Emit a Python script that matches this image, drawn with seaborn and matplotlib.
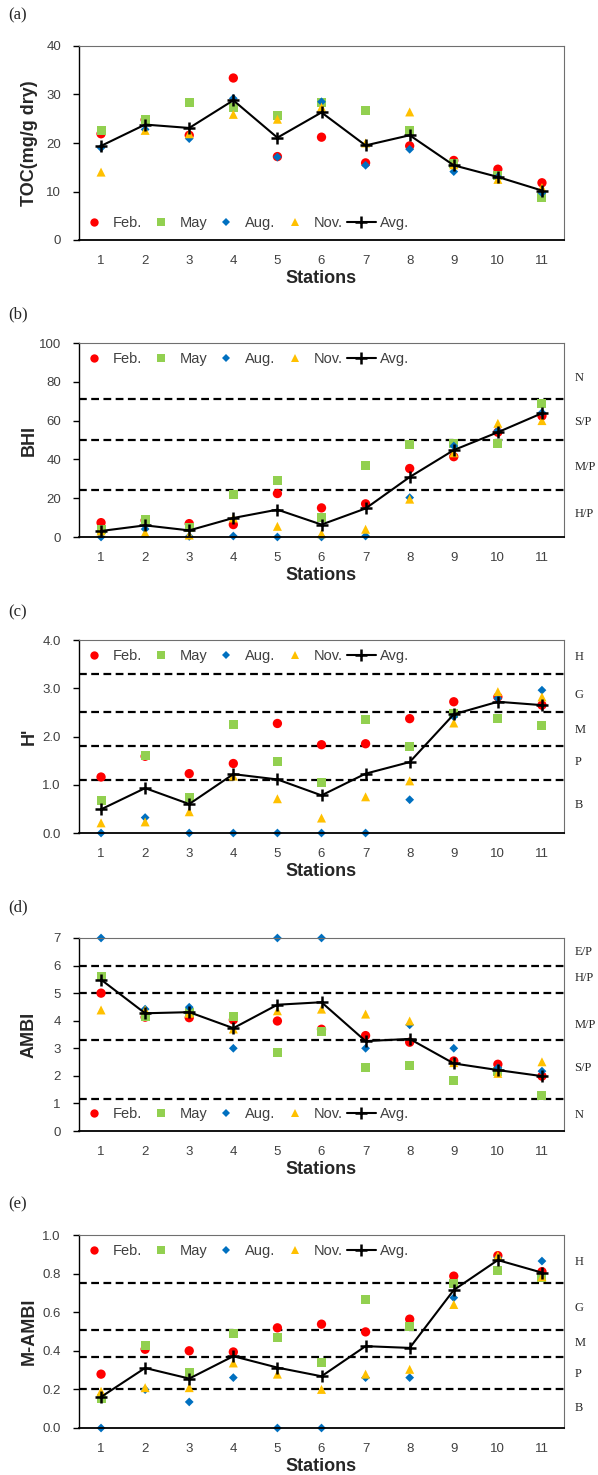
import matplotlib
matplotlib.use("Agg")
import matplotlib.pyplot as plt
from matplotlib.lines import Line2D
from matplotlib.ticker import FormatStrFormatter
import seaborn as sns
import pandas as pd
import numpy as np

sns.set_style("ticks")
plt.rcParams['font.family'] = ['Liberation Sans', 'DejaVu Sans']

# ---------------- data ----------------
stations = list(range(1, 12))
months = ['Feb.', 'May', 'Aug.', 'Nov.']

# (a) TOC
toc_feb = [21.9, 24.8, 21.6, 33.4, 17.2, 21.2, 15.9, 19.4, 16.4, 14.6, 11.8]
toc_may = [22.5, 24.9, 28.3, 27.3, 25.7, 28.3, 26.8, 22.5, 15.7, 13.3, 8.7]
toc_aug = [19.0, 22.8, 20.9, 29.2, 17.1, 28.5, 15.4, 18.7, 14.1, 13.0, 9.7]
toc_nov = [14.0, 22.6, 21.9, 25.9, 24.9, 27.4, 20.0, 26.4, 15.5, 12.5, 10.8]
toc_avg = [19.4, 23.8, 23.1, 28.8, 21.1, 26.3, 19.5, 21.6, 15.4, 13.0, 10.2]

# (b) BHI
bhi_feb = [7.4, 8.6, 6.9, 6.4, 22.4, 15.0, 17.1, 35.3, 41.4, 54.0, 62.4]
bhi_may = [4.0, 9.0, 4.8, 21.9, 29.1, 9.8, 36.7, 47.9, 48.3, 48.3, 69.0]
bhi_aug = [0.0, 4.1, 0.3, 0.5, 0.0, 0.0, 0.5, 20.3, 46.9, 54.8, 64.1]
bhi_nov = [3.1, 2.2, 1.0, 9.8, 5.5, 1.7, 4.0, 19.5, 43.4, 58.6, 60.0]
bhi_avg = [3.1, 6.0, 3.4, 9.8, 14.1, 6.4, 14.7, 30.9, 44.8, 54.0, 63.8]
bhi_limits = [71, 50, 24]
bhi_zones = ['N', 'S/P', 'M/P', 'H/P']

# (c) H'
h_feb = [1.16, 1.59, 1.23, 1.44, 2.27, 1.83, 1.85, 2.37, 2.72, 2.82, 2.65]
h_may = [0.68, 1.60, 0.73, 2.25, 1.49, 1.04, 2.35, 1.79, 2.48, 2.37, 2.22]
h_aug = [0.0, 0.32, 0.0, 0.0, 0.0, 0.0, 0.0, 0.69, 2.41, 2.79, 2.96]
h_nov = [0.21, 0.23, 0.44, 1.18, 0.71, 0.31, 0.75, 1.08, 2.28, 2.93, 2.82]
h_avg = [0.49, 0.93, 0.60, 1.22, 1.11, 0.78, 1.23, 1.47, 2.46, 2.72, 2.65]
h_limits = [3.3, 2.5, 1.8, 1.1]
h_zones = ['H', 'G', 'M', 'P', 'B']

# (d) AMBI
ambi_feb = [5.0, 4.13, 4.11, 4.03, 3.99, 3.69, 3.46, 3.22, 2.54, 2.42, 1.99]
ambi_may = [5.61, 4.17, 4.30, 4.15, 2.84, 3.60, 2.29, 2.39, 1.84, 2.15, 1.27]
ambi_aug = [7.0, 4.42, 4.49, 3.0, 7.0, 7.0, 3.0, 3.85, 3.0, 2.29, 2.17]
ambi_nov = [4.39, 4.39, 4.27, 3.70, 4.36, 4.42, 4.24, 3.99, 2.48, 2.09, 2.51]
ambi_avg = [5.49, 4.27, 4.31, 3.73, 4.58, 4.67, 3.26, 3.34, 2.45, 2.21, 1.99]
ambi_limits = [6.0, 5.0, 3.3, 1.15]
ambi_zones = ['E/P', 'H/P', 'M/P', 'S/P', 'N']

# (e) M-AMBI
mambi_feb = [0.279, 0.408, 0.40, 0.394, 0.519, 0.538, 0.498, 0.564, 0.787, 0.893, 0.81]
mambi_may = [0.152, 0.429, 0.285, 0.49, 0.467, 0.337, 0.666, 0.528, 0.749, 0.815, 0.78]
mambi_aug = [0.0, 0.199, 0.135, 0.261, 0.0, 0.0, 0.261, 0.261, 0.675, 0.882, 0.865]
mambi_nov = [0.19, 0.209, 0.209, 0.337, 0.279, 0.20, 0.279, 0.304, 0.640, 0.893, 0.784]
mambi_avg = [0.161, 0.311, 0.256, 0.372, 0.313, 0.268, 0.424, 0.415, 0.715, 0.870, 0.805]
mambi_limits = [0.75, 0.51, 0.37, 0.20]
mambi_zones = ['H', 'G', 'M', 'P', 'B']

# ---------------- styles ----------------
colors = {'Feb.': '#FF0000', 'May': '#92D050', 'Aug.': '#0070C0', 'Nov.': '#FFC000'}
markers = {'Feb.': 'o', 'May': 's', 'Aug.': 'D', 'Nov.': '^'}
sizes = {'Feb.': 45, 'May': 42, 'Aug.': 20, 'Nov.': 42}
legend_ms = {'Feb.': 6.0, 'May': 5.8, 'Aug.': 3.6, 'Nov.': 5.4}

fig = plt.figure(figsize=(5.98, 14.75), dpi=100)

# pixel boxes of each axes: (top, bottom)
boxes = [(46, 240), (343, 537), (640, 833), (938, 1131), (1235, 1428)]
letters = ['(a)', '(b)', '(c)', '(d)', '(e)']
letter_y = [15, 314, 612, 907, 1204]


def draw_panel(idx, series, avg, ylabel, ymax, ystep, fmt, legend_y,
               limits=None, zones=None, zone_y=None):
    top, bot = boxes[idx]
    ax = fig.add_axes([79 / 598, 1 - bot / 1475, 485 / 598, (bot - top) / 1475])

    df = pd.DataFrame({
        'Station': stations * 4,
        'Value': sum(series, []),
        'Month': np.repeat(months, len(stations)),
    })

    if limits:
        for lim in limits:
            ax.axhline(lim, color='black', lw=1.6, ls=(0, (3.5, 2)), zorder=0.5)

    sns.scatterplot(data=df, x='Station', y='Value', hue='Month', style='Month',
                    size='Month', sizes=sizes, palette=colors, markers=markers,
                    hue_order=months, style_order=months, size_order=months,
                    linewidth=0, edgecolor='none', clip_on=False, legend=False, ax=ax)
    sns.lineplot(x=stations, y=avg, color='black', lw=1.5, marker='+', markersize=8,
                 markeredgewidth=1.8, markeredgecolor='black', ax=ax, legend=False)

    ax.set_xlim(0.5, 11.5)
    ax.set_ylim(0, ymax)
    ax.set_xticks(stations)
    ax.set_yticks(np.arange(0, ymax + ystep / 2, ystep))
    if fmt:
        ax.yaxis.set_major_formatter(FormatStrFormatter(fmt))

    ax.tick_params(axis='y', direction='out', length=4, width=1, pad=9,
                   labelsize=9.5, labelcolor='#404040', color='black')
    ax.tick_params(axis='x', length=0, pad=11, labelsize=9.5, labelcolor='#404040')

    for side in ['top', 'right']:
        ax.spines[side].set_color('#6f6f6f')
        ax.spines[side].set_linewidth(0.8)
    ax.spines['left'].set_color('black')
    ax.spines['left'].set_linewidth(1.0)
    ax.spines['bottom'].set_color('black')
    ax.spines['bottom'].set_linewidth(1.3)

    ax.set_ylabel(ylabel, fontsize=13, fontweight='bold')
    ax.yaxis.set_label_coords(-0.103, 0.5)
    ax.yaxis.label.set_va('center')
    ax.set_xlabel('Stations', fontsize=13, fontweight='bold')
    ax.xaxis.set_label_coords(0.5, -0.197)
    ax.xaxis.label.set_va('center')

    # right side quality classes
    if zones:
        for lab, yv in zip(zones, zone_y):
            ax.text(1.021, yv, lab, transform=ax.get_yaxis_transform(), ha='left',
                    va='center', fontsize=9, family='Liberation Serif', clip_on=False)

    handles = [Line2D([], [], ls='none', marker=markers[m], color=colors[m],
                      markersize=legend_ms[m], markeredgewidth=0) for m in months]
    handles.append(Line2D([], [], color='black', lw=1.5, marker='+', markersize=8,
                          markeredgewidth=1.8))
    ax.legend(handles, months + ['Avg.'], loc='center left',
              bbox_to_anchor=(0.0, legend_y), ncol=5, frameon=False,
              fontsize=10.5, handlelength=2.0, handletextpad=0.3,
              columnspacing=0.3, borderpad=0, borderaxespad=0, labelcolor='#404040')

    fig.text(8 / 598, 1 - letter_y[idx] / 1475, letters[idx], ha='left', va='center',
             fontsize=12, family='Liberation Serif')
    return ax


draw_panel(0, [toc_feb, toc_may, toc_aug, toc_nov], toc_avg, 'TOC(mg/g dry)',
           40, 10, None, 0.088)
draw_panel(1, [bhi_feb, bhi_may, bhi_aug, bhi_nov], bhi_avg, 'BHI',
           100, 20, None, 0.918, bhi_limits, bhi_zones, [82, 59.5, 36.2, 11.7])
draw_panel(2, [h_feb, h_may, h_aug, h_nov], h_avg, "H'",
           4.0, 1.0, '%.1f', 0.917, h_limits, h_zones, [3.65, 2.86, 2.13, 1.47, 0.59])
draw_panel(3, [ambi_feb, ambi_may, ambi_aug, ambi_nov], ambi_avg, 'AMBI',
           7, 1, None, 0.088, ambi_limits, ambi_zones, [6.48, 5.55, 3.85, 2.27, 0.59])
draw_panel(4, [mambi_feb, mambi_may, mambi_aug, mambi_nov], mambi_avg, 'M-AMBI',
           1.0, 0.2, '%.1f', 0.917, mambi_limits, mambi_zones, [0.86, 0.62, 0.44, 0.28, 0.105])

fig.savefig('out.png', dpi=100)
